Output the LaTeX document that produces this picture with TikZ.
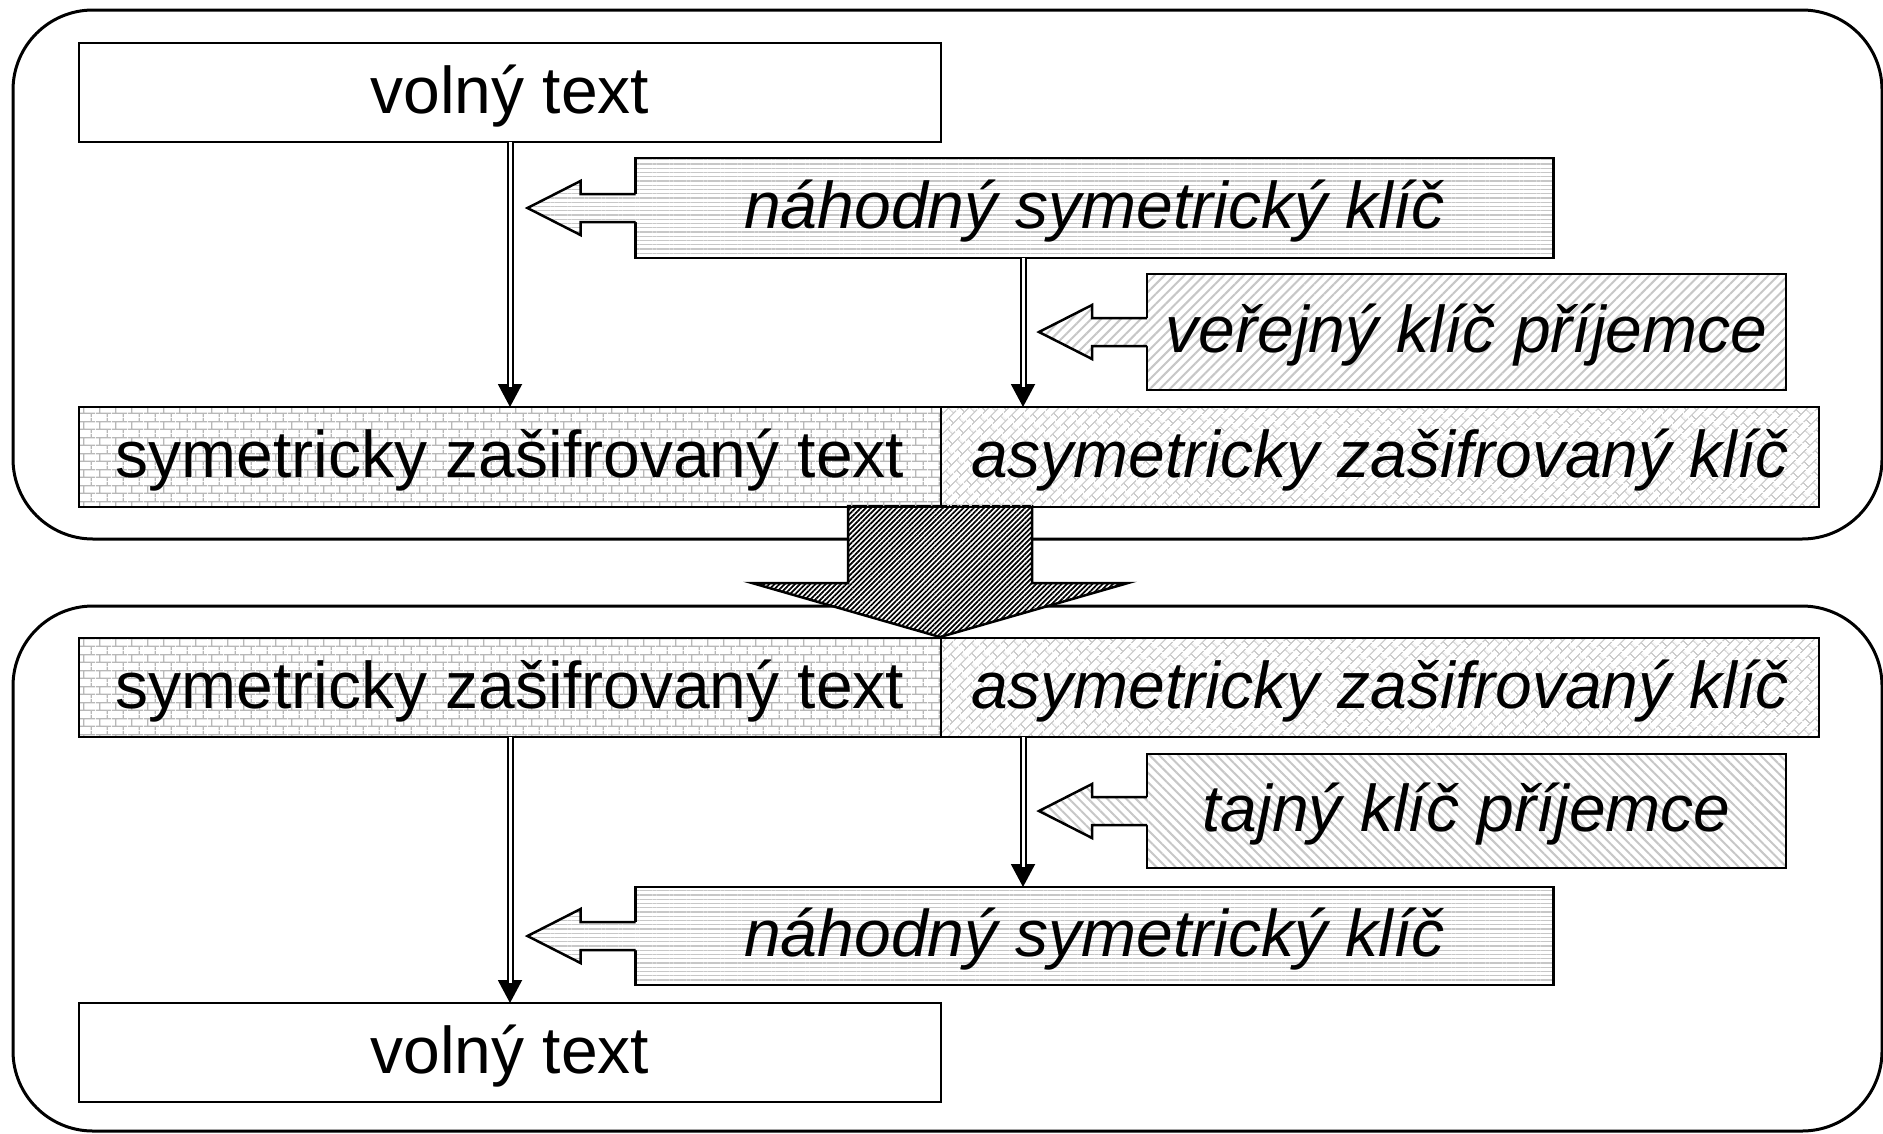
\documentclass[tikz,border=0pt]{standalone}
\usepackage{fontspec}
\setmainfont{Liberation Sans}
\usetikzlibrary{patterns,patterns.meta,arrows.meta,calc}

\pgfdeclarepattern{
  name=sbricks, type=uncolored,
  bottom left={\pgfpoint{0pt}{0pt}},
  top right={\pgfpoint{6.4pt}{6.2pt}},
  tile size={\pgfpoint{6.4pt}{6.2pt}},
  code={
    \pgfsetlinewidth{0.5pt}
    \pgfpathmoveto{\pgfpoint{0pt}{1.55pt}}\pgfpathlineto{\pgfpoint{6.4pt}{1.55pt}}
    \pgfpathmoveto{\pgfpoint{0pt}{4.65pt}}\pgfpathlineto{\pgfpoint{6.4pt}{4.65pt}}
    \pgfpathmoveto{\pgfpoint{1.6pt}{1.55pt}}\pgfpathlineto{\pgfpoint{1.6pt}{4.65pt}}
    \pgfpathmoveto{\pgfpoint{4.8pt}{4.65pt}}\pgfpathlineto{\pgfpoint{4.8pt}{6.2pt}}
    \pgfpathmoveto{\pgfpoint{4.8pt}{0pt}}\pgfpathlineto{\pgfpoint{4.8pt}{1.55pt}}
    \pgfusepath{stroke}
  }
}
\pgfdeclarepattern{
  name=dbricks, type=uncolored,
  bottom left={\pgfpoint{0pt}{0pt}},
  top right={\pgfpoint{6pt}{5.6pt}},
  tile size={\pgfpoint{6pt}{5.6pt}},
  tile transformation={\pgftransformrotate{45}},
  code={
    \pgfsetlinewidth{0.5pt}
    \pgfpathmoveto{\pgfpoint{0pt}{1.4pt}}\pgfpathlineto{\pgfpoint{6pt}{1.4pt}}
    \pgfpathmoveto{\pgfpoint{0pt}{4.2pt}}\pgfpathlineto{\pgfpoint{6pt}{4.2pt}}
    \pgfpathmoveto{\pgfpoint{1.5pt}{1.4pt}}\pgfpathlineto{\pgfpoint{1.5pt}{4.2pt}}
    \pgfpathmoveto{\pgfpoint{4.5pt}{4.2pt}}\pgfpathlineto{\pgfpoint{4.5pt}{5.6pt}}
    \pgfpathmoveto{\pgfpoint{4.5pt}{0pt}}\pgfpathlineto{\pgfpoint{4.5pt}{1.4pt}}
    \pgfusepath{stroke}
  }
}

\newcommand{\keyarrow}[2]{%
  \fill[white] ($(#1.west)+(1.5,-14)$) -- ++(-56.5,0) -- ++(0,-13) -- ++(-53,27) -- ++(53,27) -- ++(0,-13) -- ++(56.5,0) -- cycle;
  \path[#2] ($(#1.west)+(1.5,-14)$) -- ++(-56.5,0) -- ++(0,-13) -- ++(-53,27) -- ++(53,27) -- ++(0,-13) -- ++(56.5,0) -- cycle;
  \draw[keyline] ($(#1.west)+(0,-14)$) -- ++(-55,0) -- ++(0,-13) -- ++(-53,27) -- ++(53,27) -- ++(0,-13) -- ++(55,0);
}

\begin{document}
\begin{tikzpicture}[x=0.4pt,y=-0.4pt,
  box/.style={draw, line width=1pt, inner sep=0pt, outer sep=0pt, font=\fontsize{26.4}{30}\selectfont, text height=21.9pt, text depth=5.5pt},
  ital/.style={font=\fontsize{26.4}{30}\selectfont\itshape},
  hl/.style={pattern={Lines[angle=0,distance=1.7pt,line width=0.45pt]}, pattern color=black!22},
  ne/.style={pattern={Lines[angle=45,distance=2.8pt,line width=0.8pt]}, pattern color=black!22},
  nw/.style={pattern={Lines[angle=-45,distance=2.7pt,line width=0.8pt]}, pattern color=black!22},
  br/.style={pattern=sbricks, pattern color=black!28},
  db/.style={pattern=dbricks, pattern color=black!20},
  frame/.style={line width=1.2pt, rounded corners=32pt},
  conn/.style={line width=0.8pt, -{Triangle[length=9.2pt,width=9.6pt]}},
  dbl/.style={line width=0.8pt, double=white, double distance=1.2pt, shorten >=8pt},
  keyline/.style={line width=1pt, line join=miter},
]
\fill[white] (0,0) rectangle (1883,1133);
\useasboundingbox (0,0) rectangle (1883,1133);

% frames
\draw[frame] (13,10) rectangle (1882,539);
\draw[frame] (13,606) rectangle (1882,1131);

% big arrow
\fill[white] (848,506) -- (1032,506) -- (1032,583) -- (1130,583) -- (940,637) -- (750,583) -- (848,583) -- cycle;
\draw[line width=1pt, pattern={Lines[angle=45,distance=1.45pt,line width=0.7pt]}, pattern color=black]
  (848,506) -- (1032,506) -- (1032,583) -- (1128,583) -- (940,637) -- (752,583) -- (848,583) -- cycle;

% top part
\node[box, minimum width=862*0.4pt, minimum height=99*0.4pt] (volT) at (510,92.5) {volný text};
\node[box, hl, ital, minimum width=918*0.4pt, minimum height=100*0.4pt] (nahT) at (1094.5,208) {náhodný symetrický klíč};
\node[box, ne, ital, minimum width=639*0.4pt, minimum height=116*0.4pt] (verT) at (1466.5,332) {veřejný klíč příjemce};
\node[box, br, minimum width=862*0.4pt, minimum height=100*0.4pt] (symT) at (510,457) {symetricky zašifrovaný text};
\node[box, db, ital, minimum width=878*0.4pt, minimum height=100*0.4pt] (asyT) at (1380,457) {asymetricky zašifrovaný klíč};

% bottom part
\node[box, br, minimum width=862*0.4pt, minimum height=99*0.4pt] (symB) at (510,687.5) {symetricky zašifrovaný text};
\node[box, db, ital, minimum width=878*0.4pt, minimum height=99*0.4pt] (asyB) at (1380,687.5) {asymetricky zašifrovaný klíč};
\node[box, nw, ital, minimum width=639*0.4pt, minimum height=114*0.4pt] (tajB) at (1466.5,811) {tajný klíč příjemce};
\node[box, hl, ital, minimum width=918*0.4pt, minimum height=98*0.4pt] (nahB) at (1094.5,936) {náhodný symetrický klíč};
\node[box, minimum width=862*0.4pt, minimum height=99*0.4pt] (volB) at (510,1052.5) {volný text};

% key arrows
\keyarrow{nahT}{hl}
\keyarrow{verT}{ne}
\keyarrow{tajB}{nw}
\keyarrow{nahB}{hl}

% connectors
\coordinate (rx) at (1023,0);
\draw[conn] (volT.south) -- (symT.north);
\draw[dbl] (volT.south) -- (symT.north);
\draw[conn] (nahT.south -| rx) -- (asyT.north -| rx);
\draw[dbl] (nahT.south -| rx) -- (asyT.north -| rx);
\draw[conn] (symB.south) -- (volB.north);
\draw[dbl] (symB.south) -- (volB.north);
\draw[conn] (asyB.south -| rx) -- (nahB.north -| rx);
\draw[dbl] (asyB.south -| rx) -- (nahB.north -| rx);
\end{tikzpicture}
\end{document}
